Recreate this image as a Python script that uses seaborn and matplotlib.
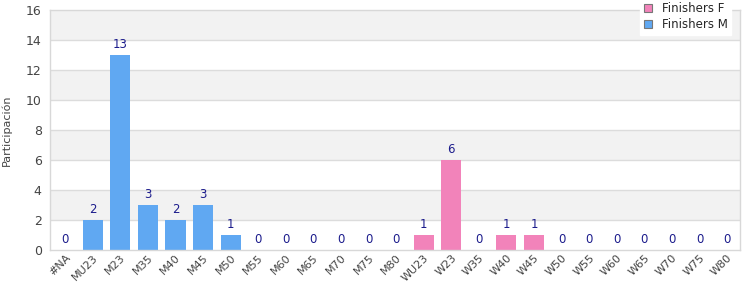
import pandas as pd
import numpy as np
import matplotlib.pyplot as plt
import seaborn as sns

# datos
categorias = ['#NA', 'MU23', 'M23', 'M35', 'M40', 'M45', 'M50', 'M55', 'M60', 'M65',
              'M70', 'M75', 'M80', 'WU23', 'W23', 'W35', 'W40', 'W45', 'W50', 'W55',
              'W60', 'W65', 'W70', 'W75', 'W80']
valores = [0, 2, 13, 3, 2, 3, 1, 0, 0, 0, 0, 0, 0, 1, 6, 0, 1, 1, 0, 0, 0, 0, 0, 0, 0]
grupo = ['Finishers M'] * 13 + ['Finishers F'] * 12

colores = {'Finishers F': '#F283BA', 'Finishers M': '#60A8F2'}

df = pd.DataFrame({'cat': categorias, 'val': valores, 'grupo': grupo})

sns.set_style('white')
fig = plt.figure(figsize=(7.5, 3), dpi=100)
ax = fig.add_axes([50 / 750, 1 - 250 / 300, 690 / 750, 240 / 300])

# bandas alternas de fondo
for y0 in range(2, 16, 4):
    ax.axhspan(y0, y0 + 2, color='#F2F2F2', zorder=0, lw=0)
for y in range(2, 16, 2):
    ax.axhline(y, color='#DCDCDC', lw=1, zorder=0.5)

sns.barplot(data=df, x='cat', y='val', hue='grupo', hue_order=['Finishers F', 'Finishers M'],
            palette=colores, dodge=False, width=0.73, saturation=1, linewidth=0,
            ax=ax, zorder=2)

for i, v in enumerate(valores):
    ax.text(i, v + 0.25, str(v), ha='center', va='bottom', fontsize=8.5, color='#1C1C8C')

ax.set_ylim(0, 16)
ax.set_xlim(-0.55, len(categorias) - 0.53)
ax.set_yticks(range(0, 17, 2))
ax.tick_params(axis='y', labelsize=9, labelcolor='#444444', length=0, pad=6)
ax.tick_params(axis='x', labelsize=8, labelcolor='#444444', length=0, pad=2)
plt.setp(ax.get_xticklabels(), rotation=45, ha='right', rotation_mode='anchor')
ax.set_xlabel('')
ax.set_ylabel('Participación', fontsize=8, color='#444444')
ax.yaxis.set_label_coords(-0.055, 0.5)
for s in ax.spines.values():
    s.set_color('#D8D8D8')
    s.set_linewidth(1)

handles, labels = ax.get_legend_handles_labels()
for h in handles:
    h.set_edgecolor('#777777')
    h.set_linewidth(0.8)
leg = ax.legend(handles, labels, loc='upper right', bbox_to_anchor=(731 / 750, 1.005),
                bbox_transform=fig.transFigure, fontsize=8.5, frameon=True, fancybox=False,
                handlelength=0.7, handleheight=0.7, handletextpad=0.8, borderpad=0.3,
                labelspacing=0.25, borderaxespad=0)
leg.get_frame().set_edgecolor('white')
leg.get_frame().set_facecolor('white')
leg.get_frame().set_alpha(1)
leg.set_zorder(10)

plt.savefig('out.png', dpi=100)
